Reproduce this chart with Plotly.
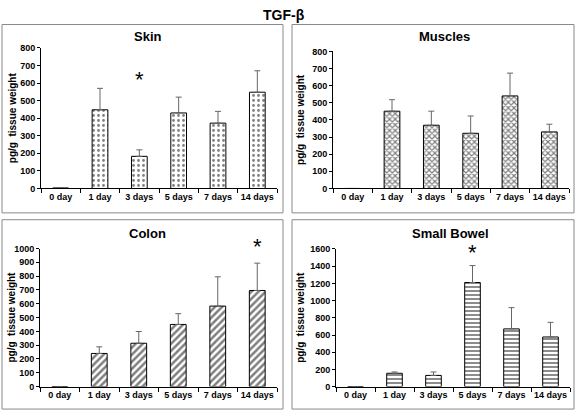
import plotly.graph_objects as go

days = ["0 day", "1 day", "3 days", "5 days", "7 days", "14 days"]

skin = [3, 448, 183, 430, 372, 548]
skin_top = [3, 570, 220, 520, 439, 670]

muscles = [0, 451, 369, 322, 540, 330]
muscles_top = [0, 518, 451, 423, 673, 375]

colon = [0, 240, 314, 450, 583, 696]
colon_top = [0, 288, 399, 528, 795, 894]

bowel = [0, 155, 130, 1210, 671, 577]
bowel_top = [0, 170, 170, 1407, 918, 747]

W, H = 576, 416
FONT = "Liberation Sans, Arial, sans-serif"


def px(x):
    return x / W


def py(y):
    return 1 - y / H


panels = [
    dict(name="Skin", v=skin, t=skin_top, shape=".", size=5, sol=0.25, ymax=800, dtick=100,
         xd=(41, 277), yd=(188, 44), star=(2, 622, 0), box=(2, 20, 283, 213), title=(148, 32), ylab=12),
    dict(name="Muscles", v=muscles, t=muscles_top, shape="x", size=4, sol=0.5, ymax=800, dtick=100,
         xd=(333, 569), yd=(188, 47.5), star=None, box=(292, 20, 574, 213), title=(444, 32), ylab=301),
    dict(name="Colon", v=colon, t=colon_top, shape="/", size=5, sol=0.5, ymax=1000, dtick=100,
         xd=(40, 277), yd=(391, 249.5), star=(5, 1000, 2), box=(2, 220, 283, 414), title=(147, 234), ylab=12),
    dict(name="Small Bowel", v=bowel, t=bowel_top, shape="-", size=4, sol=0.45, ymax=1600, dtick=200,
         xd=(336, 570), yd=(391, 250), star=(3, 1562, 0), box=(292, 220, 574, 414), title=(450, 234), ylab=301),
]

fig = go.Figure()
annotations = []
shapes = []
layout = {}

for i, p in enumerate(panels):
    k = "" if i == 0 else str(i + 1)
    xa, ya = "x" + k, "y" + k
    err = [t - v for v, t in zip(p["v"], p["t"])]
    fig.add_trace(go.Bar(
        x=days, y=p["v"], xaxis=xa, yaxis=ya, width=0.4,
        marker=dict(color="white", line=dict(color="black", width=1),
                    pattern=dict(shape=p["shape"], fgcolor="black", bgcolor="white",
                                 size=p["size"], solidity=p["sol"])),
        error_y=dict(type="data", symmetric=False, array=err, arrayminus=[0] * 6,
                     color="#666666", thickness=1, width=3),
        showlegend=False, hoverinfo="skip",
    ))
    layout["xaxis" + k] = dict(
        domain=[px(p["xd"][0]), px(p["xd"][1])], anchor=ya, type="category",
        range=[-0.5, 5.5], showline=True, linecolor="black", linewidth=1,
        ticks="outside", ticklen=4, tickcolor="black", tickson="boundaries",
        showgrid=False, zeroline=False, tickangle=0,
        tickfont=dict(family=FONT, size=9, color="black", weight="bold"),
    )
    layout["yaxis" + k] = dict(
        domain=[py(p["yd"][0]), py(p["yd"][1])], anchor=xa,
        range=[0, p["ymax"]], dtick=p["dtick"], showline=True, linecolor="black",
        linewidth=1, ticks="outside", ticklen=3, tickcolor="black",
        showgrid=False, zeroline=False,
        tickfont=dict(family=FONT, size=9, color="black", weight="bold"),
    )
    annotations.append(dict(text="<b>%s</b>" % p["name"], xref="paper", yref="paper",
                            x=px(p["title"][0]), y=py(p["title"][1]), xanchor="center",
                            yanchor="middle", showarrow=False,
                            font=dict(family=FONT, size=13, color="black")))
    annotations.append(dict(text="<b>pg/g  tissue weight</b>", xref="paper", yref="paper",
                            x=px(p["ylab"]), y=py((p["yd"][0] + p["yd"][1]) / 2),
                            xanchor="center", yanchor="middle", textangle=-90,
                            showarrow=False, font=dict(family=FONT, size=10, color="black")))
    if p["star"] is not None:
        annotations.append(dict(text="*", xref=xa, yref=ya, x=days[p["star"][0]],
                                y=p["star"][1], yshift=p["star"][2], xanchor="center",
                                yanchor="middle", showarrow=False,
                                font=dict(family=FONT, size=22, color="black")))
    b = p["box"]
    shapes.append(dict(type="rect", xref="paper", yref="paper", x0=px(b[0]), x1=px(b[2]),
                       y0=py(b[3]), y1=py(b[1]), line=dict(color="#8a8a8a", width=1)))

annotations.append(dict(text="<b>TGF-β</b>", xref="paper", yref="paper", x=px(284), y=py(10),
                        xanchor="center", yanchor="middle", showarrow=False,
                        font=dict(family=FONT, size=14, color="black")))

fig.update_layout(
    width=W, height=H, margin=dict(l=0, r=0, t=0, b=0),
    paper_bgcolor="white", plot_bgcolor="white",
    annotations=annotations, shapes=shapes, bargap=0.6, **layout,
)

fig.write_html("out.html")
